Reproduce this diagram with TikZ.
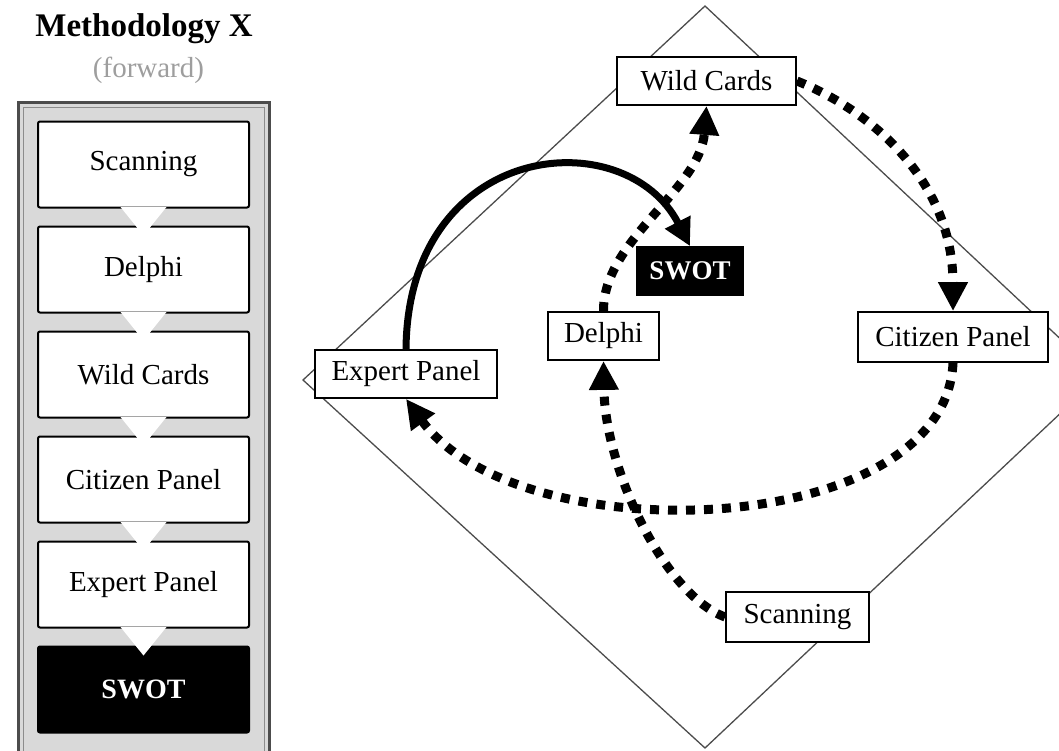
\documentclass[tikz,border=0pt]{standalone}
\usepackage{fontspec}
\setmainfont{Liberation Serif}
\usetikzlibrary{arrows.meta,calc}
\begin{document}
\begin{tikzpicture}[x=1pt,y=-1pt,
  txt/.style={font=\fontsize{29}{31}\selectfont},
  lbox/.style={txt, draw=black, line width=2pt, fill=white, rounded corners=2pt,
    minimum width=211pt, minimum height=86pt, inner sep=0pt},
  lswot/.style={lbox, fill=black, text=white, font=\bfseries\fontsize{28}{30}\selectfont},
  rbox/.style={txt, draw=black, line width=1.8pt, fill=white, minimum height=48pt, inner sep=0pt},
  rswot/.style={rbox, fill=black, text=white, font=\bfseries\fontsize{27}{29}\selectfont},
  chevron/.style={fill=white},
  dotflow/.style={line width=9pt, dash pattern=on 9pt off 9pt,
    -{Triangle[length=29pt,width=28pt]}},
  solidflow/.style={line width=7pt, -{Triangle[length=27pt,width=27pt]}},
]
\useasboundingbox (0,0) rectangle (1059,750);
\clip (0,0) rectangle (1059,750);

% ---------- left column: the forward sequence ----------
\node[anchor=base, font=\bfseries\fontsize{33}{35}\selectfont] (title) at (144,36) {Methodology X};
\node[anchor=base, txt, text=black!38] (sub) at (148.5,77) {(forward)};

\draw[draw=black!70, line width=3pt, fill=black!15] (18.5,102.5) rectangle (269,775);
\draw[draw=black!45, line width=1pt] (23,107) rectangle (264.5,775);

\node[lbox] (l1) at (143.5,164.5) {Scanning};
\node[lbox] (l2) at (143.5,269.5) {Delphi};
\node[lbox] (l3) at (143.5,374.5) {Wild Cards};
\node[lbox] (l4) at (143.5,479.5) {Citizen Panel};
\node[lbox] (l5) at (143.5,584.5) {Expert Panel};
\node[lswot] (l6) at (143.5,689.5) {SWOT};

\foreach \a/\b in {l1/l2,l2/l3,l3/l4,l4/l5,l5/l6}
  \fill[chevron] ([xshift=-23pt,yshift=1.5pt]\a.south) -- ([xshift=23pt,yshift=1.5pt]\a.south)
    -- ([yshift=-10pt]\b.north) -- cycle;

% ---------- right: the diamond of methods ----------
\draw[black!70, line width=1.3pt] (705,6) -- (1100,376) -- (705,748) -- (303,380) -- cycle;

\node[rbox, minimum width=179pt] (wc) at (706.5,81) {Wild Cards};
\node[rswot, minimum width=106pt] (sw) at (690,271) {SWOT};
\node[rbox, minimum width=111pt] (de) at (603.5,336) {Delphi};
\node[rbox, minimum width=182pt] (ep) at (406,374) {Expert Panel};
\node[rbox, minimum width=190pt, minimum height=50pt] (cp) at (953,337) {Citizen Panel};
\node[rbox, minimum width=143pt, minimum height=50pt] (sc) at (797.5,617) {Scanning};

\draw[solidflow] (ep.north) .. controls (408,140) and (625,120) .. (sw.north);
\draw[dotflow] (de.north) .. controls (603,240) and (700,190) .. (wc.south);
\draw[dotflow] (wc.east) .. controls (870,110) and (953,180) .. (cp.north);
\draw[dotflow] (cp.south) .. controls (945,540) and (520,555) .. (ep.south);
\draw[dotflow] (sc.west) .. controls (665,595) and (605,470) .. (de.south);
\end{tikzpicture}
\end{document}
